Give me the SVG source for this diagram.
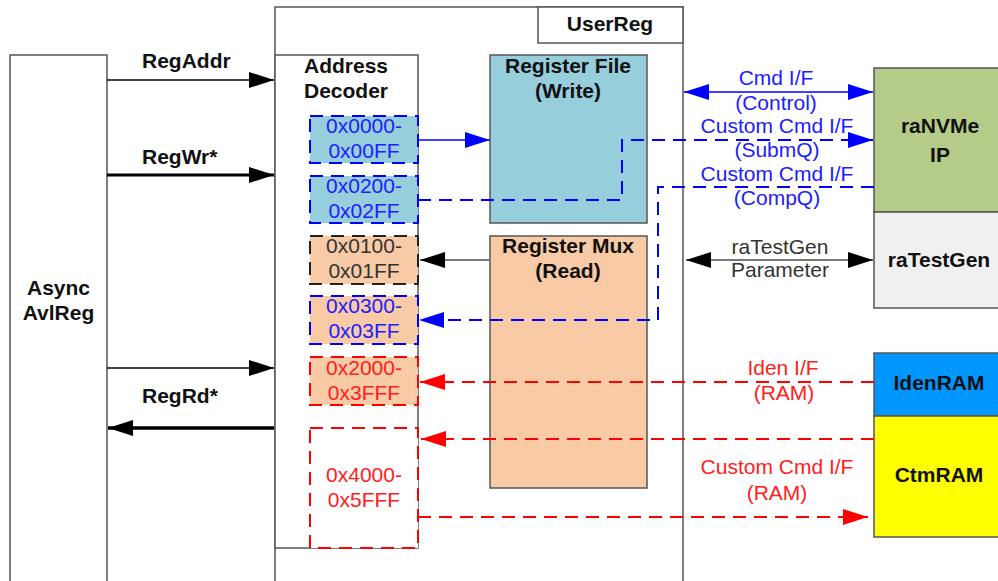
<svg xmlns="http://www.w3.org/2000/svg" width="998" height="581" viewBox="0 0 998 581">
<defs>
<style>
.box{stroke:#555;stroke-width:1.5;}
.t{font-family:"Liberation Sans",Arial,sans-serif;font-size:21px;text-anchor:middle;}
.b{font-weight:bold;fill:#111;}
.lb{font-size:21px;}
.blue{fill:#2020FF;}
.red{fill:#FF2020;}
.gray{fill:#333;}
.bd{fill:none;stroke:#0000FF;stroke-width:2;stroke-dasharray:13 8;}
.rd{fill:none;stroke:#FF0000;stroke-width:2;stroke-dasharray:13 8;}
.kd{fill:none;stroke:#222;stroke-width:2;stroke-dasharray:13 8;}
</style>
<marker id="ak" viewBox="0 0 25 16" refX="25" refY="8" markerWidth="25" markerHeight="16" markerUnits="userSpaceOnUse" orient="auto-start-reverse"><path d="M0,0L25,8L0,16z" fill="#000"/></marker>
<marker id="ab" viewBox="0 0 25 16" refX="25" refY="8" markerWidth="25" markerHeight="16" markerUnits="userSpaceOnUse" orient="auto-start-reverse"><path d="M0,0L25,8L0,16z" fill="#0000FF"/></marker>
<marker id="ar" viewBox="0 0 25 16" refX="25" refY="8" markerWidth="25" markerHeight="16" markerUnits="userSpaceOnUse" orient="auto-start-reverse"><path d="M0,0L25,8L0,16z" fill="#FF0000"/></marker>
</defs>
<rect width="998" height="581" fill="#fff"/>

<g id="avlreg">
<rect class="box" x="10" y="55" width="97" height="540" fill="#fff"/>
<text class="t b" x="58.5" y="295">Async</text>
<text class="t b" x="58.5" y="320">AvlReg</text>
</g>

<g id="userreg">
<rect class="box" x="275" y="7" width="408" height="590" fill="#fff"/>
<rect class="box" x="538" y="7" width="145" height="36" fill="#fff"/>
<text class="t b" x="610" y="31">UserReg</text>
</g>

<g id="addrdec">
<rect class="box" x="275" y="55" width="143" height="493" fill="#fff"/>
<text class="t b" x="346" y="73">Address</text>
<text class="t b" x="346" y="98">Decoder</text>
</g>

<g id="regfile">
<rect class="box" x="490" y="55" width="157" height="168" fill="#96CEDC"/>
<text class="t b" x="568" y="73">Register File</text>
<text class="t b" x="568" y="98">(Write)</text>
</g>

<g id="regmux">
<rect class="box" x="490" y="236" width="157" height="252" fill="#F8CBA6"/>
<text class="t b" x="568" y="253">Register Mux</text>
<text class="t b" x="568" y="278">(Read)</text>
</g>

<g id="a0000">
<rect x="310" y="116" width="108" height="47" fill="#96CEDC"/>
<rect class="bd" x="310" y="116" width="108" height="47"/>
<text class="t blue" x="364" y="133">0x0000-</text>
<text class="t blue" x="364" y="158">0x00FF</text>
</g>
<g id="a0200">
<rect x="310" y="176" width="108" height="47" fill="#96CEDC"/>
<rect class="bd" x="310" y="176" width="108" height="47"/>
<text class="t blue" x="364" y="193">0x0200-</text>
<text class="t blue" x="364" y="218">0x02FF</text>
</g>
<g id="a0100">
<rect x="310" y="236" width="108" height="48" fill="#F8CBA6"/>
<rect class="kd" x="310" y="236" width="108" height="48"/>
<text class="t gray" x="364" y="253">0x0100-</text>
<text class="t gray" x="364" y="278">0x01FF</text>
</g>
<g id="a0300">
<rect x="310" y="296" width="108" height="48" fill="#F8CBA6"/>
<rect class="bd" x="310" y="296" width="108" height="48"/>
<text class="t blue" x="364" y="313">0x0300-</text>
<text class="t blue" x="364" y="338">0x03FF</text>
</g>
<g id="a2000">
<rect x="310" y="357" width="108" height="48" fill="#F8CBA6"/>
<rect class="rd" x="310" y="357" width="108" height="48"/>
<text class="t red" x="364" y="375">0x2000-</text>
<text class="t red" x="364" y="400">0x3FFF</text>
</g>
<g id="a4000">
<rect x="310" y="428" width="108" height="120" fill="#fff"/>
<rect class="rd" x="310" y="428" width="108" height="120"/>
<text class="t red" x="364" y="482">0x4000-</text>
<text class="t red" x="364" y="507">0x5FFF</text>
</g>

<g id="ranvme">
<rect class="box" x="874" y="68" width="130" height="144" fill="#B5CB88"/>
<text class="t b" x="940" y="133">raNVMe</text>
<text class="t b" x="940" y="162">IP</text>
</g>
<g id="ratestgen">
<rect class="box" x="874" y="212" width="130" height="96" fill="#F0F0F0"/>
<text class="t b" x="939" y="267">raTestGen</text>
</g>
<g id="idenram">
<rect class="box" x="874" y="353" width="130" height="63" fill="#0096FF"/>
<text class="t b" x="939" y="390">IdenRAM</text>
</g>
<g id="ctmram">
<rect class="box" x="874" y="416" width="130" height="121" fill="#FFFF00"/>
<text class="t b" x="939" y="482">CtmRAM</text>
</g>

<g id="connectors">
<line x1="107" y1="80" x2="274" y2="80" stroke="#000" stroke-width="1.5" marker-end="url(#ak)"/>
<line x1="107" y1="175" x2="274" y2="175" stroke="#000" stroke-width="3" marker-end="url(#ak)"/>
<line x1="107" y1="368" x2="274" y2="368" stroke="#000" stroke-width="1.5" marker-end="url(#ak)"/>
<line x1="274" y1="428" x2="108" y2="428" stroke="#000" stroke-width="3.5" marker-end="url(#ak)"/>
<line x1="418" y1="140" x2="490" y2="140" stroke="#0000FF" stroke-width="1.5" marker-end="url(#ab)"/>
<path class="bd" d="M418,200H622V140H873" marker-end="url(#ab)"/>
<path class="bd" d="M874,187H658V320H419" marker-end="url(#ab)"/>
<line x1="684" y1="92" x2="873" y2="92" stroke="#0000FF" stroke-width="1.5" marker-start="url(#ab)" marker-end="url(#ab)"/>
<line x1="490" y1="260" x2="420" y2="260" stroke="#777" stroke-width="2" marker-end="url(#ak)"/>
<line x1="686" y1="260" x2="873" y2="260" stroke="#777" stroke-width="2" marker-start="url(#ak)" marker-end="url(#ak)"/>
<path class="rd" d="M874,382H420" marker-end="url(#ar)"/>
<path class="rd" d="M874,439H421" marker-end="url(#ar)"/>
<path class="rd" d="M418,517H868" marker-end="url(#ar)"/>
</g>

<g id="labels">
<text class="t b" x="142" y="68" style="text-anchor:start">RegAddr</text>
<text class="t b" x="142" y="164" style="text-anchor:start">RegWr*</text>
<text class="t b" x="142" y="403" style="text-anchor:start">RegRd*</text>
<text class="t lb blue" x="776" y="85">Cmd I/F</text>
<text class="t lb blue" x="776" y="110">(Control)</text>
<text class="t lb blue" x="777" y="133">Custom Cmd I/F</text>
<text class="t lb blue" x="777" y="157">(SubmQ)</text>
<text class="t lb blue" x="777" y="181">Custom Cmd I/F</text>
<text class="t lb blue" x="777" y="205">(CompQ)</text>
<text class="t lb gray" x="780" y="254">raTestGen</text>
<text class="t lb gray" x="780" y="277">Parameter</text>
<text class="t lb red" x="783" y="375">Iden I/F</text>
<text class="t lb red" x="784" y="400">(RAM)</text>
<text class="t lb red" x="777" y="474">Custom Cmd I/F</text>
<text class="t lb red" x="777" y="500">(RAM)</text>
</g>
</svg>
